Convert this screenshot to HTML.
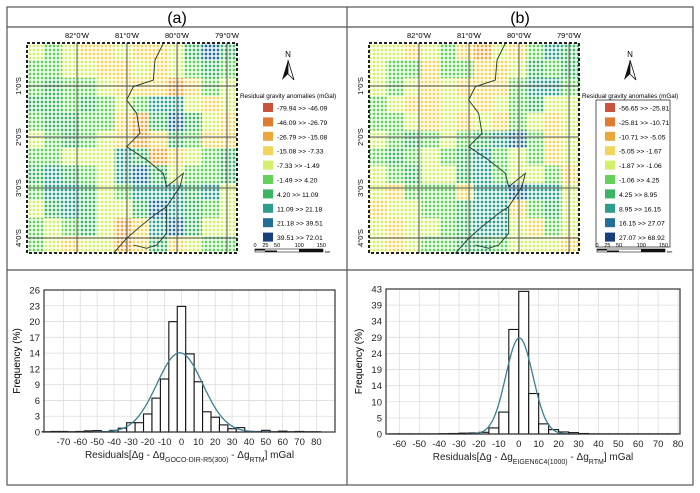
<!DOCTYPE html>
<html><head><meta charset="utf-8">
<style>
body{margin:0;background:#fff;width:700px;height:493px;overflow:hidden;font-family:"Liberation Sans",sans-serif}
svg{display:block}
</style></head><body>
<svg id="fig" width="700" height="493" xmlns="http://www.w3.org/2000/svg">
<defs></defs>
<rect x="7" y="7" width="686" height="478" fill="none" stroke="#555" stroke-width="1.2"/>
<line x1="347" y1="7" x2="347" y2="485" stroke="#555" stroke-width="1.2"/>
<line x1="7" y1="27" x2="693" y2="27" stroke="#555" stroke-width="1.2"/>
<line x1="7" y1="270" x2="693" y2="270" stroke="#555" stroke-width="1.2"/>
<text x="177" y="23" font-size="16" text-anchor="middle">(a)</text>
<text x="520" y="23" font-size="16" text-anchor="middle">(b)</text>
<g id="maps"></g>
<g id="hists"></g>
</svg>
<script>
// ---------- map data (class index per coarse cell, 12x12) ----------
const mapA = [
[4,5,4,3,3,4,3,3,4,6,8,6],
[5,5,4,4,3,3,4,3,4,5,6,5],
[5,6,5,5,4,3,3,3,2,3,5,4],
[6,6,5,6,5,4,5,7,7,4,3,4],
[5,6,6,5,5,3,2,6,8,6,4,3],
[4,5,6,5,4,3,2,3,6,5,3,3],
[5,5,4,4,4,7,6,2,3,4,5,6],
[6,7,6,5,4,7,8,6,4,5,5,6],
[5,7,7,6,4,5,7,7,7,6,7,4],
[4,6,7,6,4,4,6,8,7,6,5,4],
[5,4,5,6,4,2,3,7,8,6,4,4],
[5,4,3,4,4,2,3,6,3,4,5,5]];
const mapB = [
[4,4,3,4,5,3,2,4,3,5,7,6],
[4,5,5,3,5,5,3,3,4,6,5,6],
[4,5,4,3,4,3,3,3,5,7,7,5],
[5,4,3,3,4,4,3,4,5,6,4,4],
[5,5,4,3,4,3,4,3,5,4,3,4],
[4,5,6,5,4,5,6,7,8,5,3,4],
[5,6,5,4,5,6,7,5,4,5,3,4],
[4,5,6,4,4,6,7,5,4,4,5,3],
[4,3,5,5,5,3,7,7,8,7,7,4],
[3,4,4,5,5,6,7,7,3,5,6,4],
[4,3,4,4,5,6,7,7,4,3,5,4],
[4,3,4,5,5,6,6,5,4,4,4,3]];
const legendA = ["-79.94 >> -46.09","-46.09 >> -26.79","-26.79 >> -15.08","-15.08 >> -7.33","-7.33  >> -1.49","-1.49  >>  4.20","4.20   >> 11.09","11.09 >> 21.18","21.18 >> 39.51","39.51 >> 72.01"];
const legendB = ["-56.65 >> -25.81","-25.81 >> -10.71","-10.71 >> -5.05","-5.05 >> -1.67","-1.87  >> -1.06","-1.06  >>  4.25","4.25    >> 8.95","8.95 >> 16.15","16.15 >> 27.07","27.07 >> 68.92"];
const classColors = ["#c9533c","#e07b33","#eaa83c","#f2d55c","#d5ee6c","#66d15a","#3db463","#2f9d8c","#246f95","#183e7c"];
const lonLabels = ["82°0'W","81°0'W","80°0'W","79°0'W"];
const latLabels = ["1°0'S","2°0'S","3°0'S","4°0'S"];

// ---------- histogram data ----------
const binCentersA = [-80,-75,-70,-65,-60,-55,-50,-45,-40,-35,-30,-25,-20,-15,-10,-5,0,5,10,15,20,25,30,35,40,45,50,55,60,65,70,75,80];
const freqA = [0.05,0.1,0.1,0.05,0.1,0.2,0.25,0.05,0.3,0.7,1.7,1.7,3.3,6.2,9.7,20.2,23,14.3,9.2,3.7,2.7,1.3,0.6,0.8,0.1,0.1,0.3,0.05,0.15,0.05,0.1,0.05,0.05];
const fitA = {mean:-1, sigma:13.6, peak:14.5};
const yTicksA = [0,3,6,9,12,14,17,20,23,26];
const xTicksA = [-70,-60,-50,-40,-30,-20,-10,0,10,20,30,40,50,60,70,80];

const binStartsB = [-65,-60,-55,-50,-45,-40,-35,-30,-25,-20,-15,-10,-5,0,5,10,15,20,25,30,35,40,45,50,55,60,65,70,75];
const freqB = [0.05,0.05,0.05,0.05,0.05,0.1,0.15,0.25,0.3,0.5,1.8,6.5,31,42.3,12,3,1.3,0.6,0.4,0.15,0.05,0.05,0.05,0.05,0.05,0.05,0.05,0.05,0.05];
const fitB = {mean:0.3, sigma:6.8, peak:28.5};
const yTicksB = [0,5,10,14,19,24,29,34,39,43];
const xTicksB = [-60,-50,-40,-30,-20,-10,0,10,20,30,40,50,60,70,80];

const NS="http://www.w3.org/2000/svg";
function mk(tag,attrs,parent,text){const e=document.createElementNS(NS,tag);for(const k in attrs)e.setAttribute(k,attrs[k]);if(text!==undefined)e.textContent=text;parent.appendChild(e);return e;}
const svg=document.getElementById('fig');
const defs=svg.querySelector('defs');
classColors.forEach((c,i)=>{
  const p=mk('pattern',{id:'pat'+i,width:4,height:4,patternUnits:'userSpaceOnUse'},defs);
  mk('rect',{x:0,y:0,width:4,height:4,fill:'#fff'},p);
  mk('rect',{x:0.7,y:0.7,width:2.6,height:2.6,fill:c},p);
});
const coast=[[490,130],[465,180],[460,240],[400,260],[380,300],[410,340],[420,400],[380,440],[440,480],[490,520],[500,560],[550,520],[540,560],[500,620],[470,640],[420,680],[380,715],[340,760]];
const coast2=[[500,620],[500,700],[470,735],[440,745],[400,735]];

function drawMap(g,data,x0,legend,lx,boxed,key){
  const y0=43,W=210,H=210,n=12,cw=W/n,ch=H/n;
  const mg=mk('g',{},g);
  
  
  data.forEach((row,r)=>row.forEach((v,c)=>{
    const cell=mk('rect',{x:x0+c*cw,y:y0+r*ch,width:cw+0.3,height:ch+0.3,fill:'url(#pat'+v+')'},mg);
    
    
  }));
  const gx=[50,100,150,200], gy=[43,94,145,195];
  gx.forEach((d,i)=>{
    const l=mk('line',{x1:x0+d,y1:y0,x2:x0+d,y2:y0+H,stroke:'#555','stroke-width':1},mg);
    
    const t=mk('text',{x:x0+d,y:38,'font-size':7.5,'text-anchor':'middle'},g,lonLabels[i]);
    
  });
  gy.forEach((d,i)=>{
    const l=mk('line',{x1:x0,y1:y0+d,x2:x0+W,y2:y0+d,stroke:'#555','stroke-width':1},mg);
    
    const t=mk('text',{x:0,y:0,'font-size':7.5,'text-anchor':'middle',transform:`translate(${x0-6},${y0+d}) rotate(-90)`},g,latLabels[i]);
    
  });
  const fr=mk('rect',{x:x0,y:y0,width:W,height:H,fill:'none',stroke:'#222','stroke-width':2,'stroke-dasharray':'3,2'},mg);
  
  const toP=p=>`${x0+(p[0]/3-27)},${p[1]/3}`;
  const cl=mk('polyline',{points:coast.map(toP).join(' '),fill:'none',stroke:'#1a3a2a','stroke-width':0.9},mg);
  
  const cl2=mk('polyline',{points:coast2.map(toP).join(' '),fill:'none',stroke:'#1a3a2a','stroke-width':0.9},mg);
  
  const na=mk('g',{},g);
  
  const ax=lx+48;
  mk('text',{x:ax,y:57,'font-size':8,'text-anchor':'middle'},na,'N');
  mk('polygon',{points:`${ax},60 ${ax-6},80 ${ax},74`,fill:'#111'},na);
  mk('polygon',{points:`${ax},60 ${ax+6},80 ${ax},74`,fill:'#fff',stroke:'#111','stroke-width':0.8},na);
  const lg=mk('g',{},g);
  
  mk('text',{x:lx,y:98,'font-size':6.3},lg,'Residual gravity anomalies (mGal)');
  if(boxed) mk('rect',{x:lx+14,y:100,width:74,height:147,fill:'none',stroke:'#333','stroke-width':0.8},lg);
  legend.forEach((s,i)=>{
    const y=103+i*14.4;
    const sw=mk('rect',{x:lx+23,y:y,width:10,height:9,fill:classColors[i]},lg);
    
    const t=mk('text',{x:lx+37,y:y+7.5,'font-size':6.8,'xml:space':'preserve'},lg,s);
    
  });
  const sb=mk('g',{},g);
  
  const sx=lx+15;
  ['0','25','50','100','150'].forEach((t,i)=>mk('text',{x:sx+[0,8,17,34,51][i]*1.3,y:247,'font-size':5.5,'text-anchor':'middle'},sb,t));
  mk('rect',{x:sx,y:249,width:68,height:3,fill:'#fff',stroke:'#111','stroke-width':0.6},sb);
  mk('rect',{x:sx,y:249,width:10,height:1.5,fill:'#111'},sb);
  mk('rect',{x:sx+10,y:250.5,width:12,height:1.5,fill:'#111'},sb);
  mk('rect',{x:sx+44,y:249,width:24,height:3,fill:'#111'},sb);
  mk('text',{x:sx+70,y:253,'font-size':4},sb,'km');
}
const maps=document.getElementById('maps');
drawMap(maps,mapA,27,legendA,240,false,'panel-a');
drawMap(maps,mapB,369,legendB,582,true,'panel-b');

function drawHist(g,cfg,key){
  const {L,R,T,B,xmin,xmax,ymax,xt,yt,bins,freqs,bw,fit,sub}=cfg;
  const xs=v=>L+(v-xmin)/(xmax-xmin)*(R-L);
  const ys=v=>B-v/ymax*(B-T);
  const hg=mk('g',{},g);
  
  mk('rect',{x:L,y:T,width:R-L,height:B-T,fill:'#fff'},hg);
  xt.forEach(v=>{
    const l=mk('line',{x1:xs(v),y1:T,x2:xs(v),y2:B,stroke:'#ddd','stroke-width':0.8},hg);
    
    const t=mk('text',{x:xs(v),y:B+13,'font-size':9.5,'text-anchor':'middle',fill:'#222'},hg,String(v));
    
  });
  yt.forEach((lab,i)=>{
    const v=i*ymax/(yt.length-1);
    const l=mk('line',{x1:L,y1:ys(v),x2:R,y2:ys(v),stroke:'#ddd','stroke-width':0.8},hg);
    
    const t=mk('text',{x:L-4,y:ys(v)+3.5,'font-size':9.5,'text-anchor':'end',fill:'#222'},hg,String(lab));
    
  });
  bins.forEach((b,i)=>{
    const x1=xs(b),x2=xs(b+bw);
    const r=mk('rect',{x:x1,y:ys(freqs[i]),width:x2-x1,height:B-ys(freqs[i]),fill:'#fff',stroke:'#111','stroke-width':1.1},hg);
    
  });
  let pts=[];
  for(let v=fit.mean-4*fit.sigma;v<=fit.mean+4*fit.sigma;v+=0.5){
    pts.push(xs(v).toFixed(1)+','+ys(fit.peak*Math.exp(-0.5*((v-fit.mean)/fit.sigma)**2)).toFixed(1));
  }
  const c=mk('polyline',{points:pts.join(' '),fill:'none',stroke:'#3a7f96','stroke-width':1.3},hg);
  
  const ax=mk('rect',{x:L,y:T,width:R-L,height:B-T,fill:'none',stroke:'#333','stroke-width':1.2},hg);
  
  const yl=mk('text',{x:0,y:0,'font-size':10,'text-anchor':'middle',transform:`translate(${L-24},${(T+B)/2}) rotate(-90)`},hg,'Frequency (%)');
  
  const xl=mk('text',{x:(L+R)/2,y:B+26,'font-size':10,'text-anchor':'middle',fill:'#222'},hg);
  
  mk('tspan',{},xl,'Residuals[Δg - Δg');
  mk('tspan',{'font-size':7,dy:4},xl,sub);
  mk('tspan',{dy:-4},xl,' - Δg');
  mk('tspan',{'font-size':7,dy:4},xl,'RTM');
  mk('tspan',{dy:-4},xl,'] mGal');
}
const hists=document.getElementById('hists');
drawHist(hists,{L:44,R:335,T:290,B:432,xmin:-81.5,xmax:91,ymax:26,xt:xTicksA,yt:yTicksA,
  bins:binCentersA.map(v=>v-2.5),freqs:freqA,bw:5,fit:fitA,sub:'GOCO-DIR-R5(300)'},'panel-a');
drawHist(hists,{L:386,R:680,T:289,B:434,xmin:-66.7,xmax:81,ymax:43,xt:xTicksB,yt:yTicksB,
  bins:binStartsB,freqs:freqB,bw:5,fit:fitB,sub:'EIGEN6C4(1000)'},'panel-b');
</script>
</body></html>
